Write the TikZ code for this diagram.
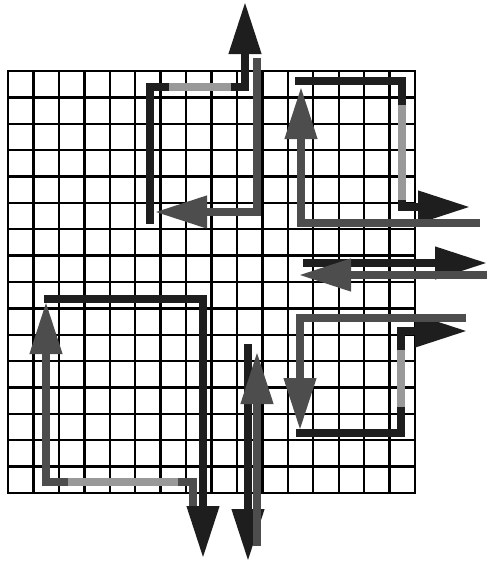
\documentclass[tikz,border=0pt]{standalone}
\usepackage{xcolor}
\usepackage{tikz}
\usetikzlibrary{arrows.meta}
\definecolor{routedark}{HTML}{1E1E1E}
\definecolor{routemid}{HTML}{4D4D4D}
\definecolor{routelight}{HTML}{999999}

\begin{document}
\begin{tikzpicture}[x=1pt, y=-1pt,
    gridline/.style={line width=2.4pt, black, line cap=rect},
    route/.style={line width=7.5pt, -{Triangle[length=52pt,width=31pt]}},
    plainseg/.style={line width=7.5pt}]
  \useasboundingbox (0,0) rectangle (487,562);
  \foreach \i in {0,...,16}{
    \draw[gridline] ({8+25.44*\i},71) -- ({8+25.44*\i},493);
    \draw[gridline] (8,{71+26.375*\i}) -- (415,{71+26.375*\i});
  }
  \draw[route, routedark] (150,224) -- (150,87) -- (245,87) -- (245,2);
  \draw[plainseg, routelight] (169,87) -- (231,87);
  \draw[route, routedark] (295,81) -- (402,81) -- (402,207) -- (470,207);
  \draw[plainseg, routelight] (402,105) -- (402,200);
  \draw[route, routedark] (303,263) -- (487,263);
  \draw[route, routedark] (44,299) -- (203,299) -- (203,558);
  \draw[route, routedark] (248,344) -- (248,561);
  \draw[route, routedark] (296,433) -- (401,433) -- (401,331) -- (467,331);
  \draw[plainseg, routelight] (401,407) -- (401,350);
  \draw[route, routemid] (257,58) -- (257,212) -- (155,212);
  \draw[route, routemid] (480,223) -- (301,223) -- (301,87);
  \draw[route, routemid] (487,275) -- (299,275);
  \draw[route, routemid] (193,506) -- (193,482) -- (46,482) -- (46,302);
  \draw[plainseg, routelight] (68,482) -- (178,482);
  \draw[route, routemid] (257,546) -- (257,352);
  \draw[route, routemid] (466,318) -- (300,318) -- (300,430);
\end{tikzpicture}
\end{document}
